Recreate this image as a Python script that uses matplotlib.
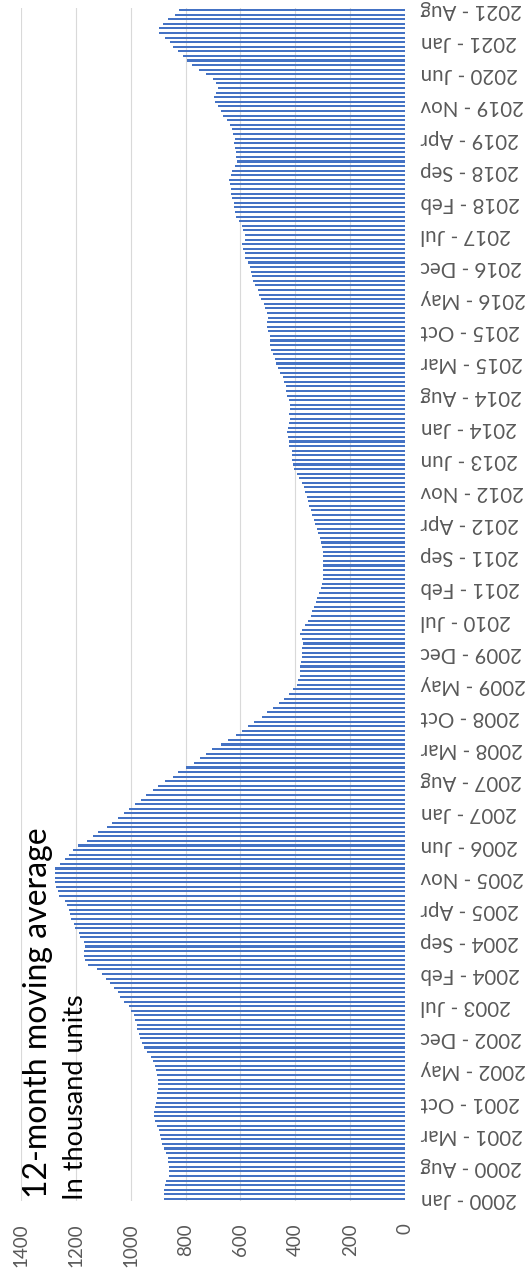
import matplotlib
matplotlib.use('Agg')
import matplotlib.pyplot as plt
import numpy as np

plt.rcParams['font.family'] = ['Lato', 'DejaVu Sans']

# ── Data (thousand units, 12-month moving average, monthly) ─────────────────
MONTHS = ['Jan', 'Feb', 'Mar', 'Apr', 'May', 'Jun',
          'Jul', 'Aug', 'Sep', 'Oct', 'Nov', 'Dec']
FIRST_YEAR = 2000

values_2000 = [877, 880, 880, 873, 871, 859, 859, 859, 862, 865, 871, 880]
values_2001 = [884, 890, 894, 898, 904, 910, 913, 913, 910, 907, 904, 904]
values_2002 = [902, 901, 902, 904, 907, 910, 919, 926, 942, 950, 959, 965]
values_2003 = [971, 975, 977, 983, 989, 997, 1007, 1025, 1040, 1047, 1062, 1074]
values_2004 = [1088, 1104, 1122, 1156, 1165, 1171, 1171, 1165, 1171, 1183, 1189, 1201]
values_2005 = [1205, 1217, 1222, 1225, 1231, 1237, 1262, 1265, 1270, 1274, 1276, 1275]
values_2006 = [1274, 1256, 1237, 1225, 1209, 1193, 1157, 1138, 1119, 1086, 1068, 1047]
values_2007 = [1025, 1005, 983, 962, 943, 919, 902, 875, 847, 829, 800, 768]
values_2008 = [747, 725, 702, 671, 644, 618, 593, 571, 550, 522, 502, 480]
values_2009 = [458, 440, 422, 407, 395, 389, 385, 383, 382, 381, 377, 377]
values_2010 = [375, 374, 377, 383, 375, 364, 353, 344, 338, 331, 325, 320]
values_2011 = [314, 308, 303, 298, 298, 298, 298, 299, 300, 301, 304, 306]
values_2012 = [310, 316, 323, 329, 334, 338, 344, 350, 355, 359, 364, 369]
values_2013 = [377, 386, 395, 404, 410, 412, 413, 413, 422, 425, 428, 429]
values_2014 = [428, 424, 419, 422, 419, 419, 425, 431, 434, 434, 440, 447]
values_2015 = [456, 463, 470, 476, 480, 488, 492, 492, 492, 498, 502, 502]
values_2016 = [501, 504, 510, 516, 524, 532, 538, 547, 554, 558, 561, 567]
values_2017 = [574, 583, 585, 590, 594, 585, 585, 591, 595, 607, 616, 619]
values_2018 = [623, 625, 630, 633, 633, 637, 640, 636, 630, 621, 614, 616]
values_2019 = [618, 621, 623, 619, 628, 631, 639, 648, 662, 670, 683, 694]
values_2020 = [698, 690, 681, 688, 699, 727, 752, 775, 795, 810, 828, 846]
values_2021 = [856, 876, 895, 895, 882, 862, 837, 823]

values = (values_2000 + values_2001 + values_2002 + values_2003 + values_2004
          + values_2005 + values_2006 + values_2007 + values_2008 + values_2009
          + values_2010 + values_2011 + values_2012 + values_2013 + values_2014
          + values_2015 + values_2016 + values_2017 + values_2018 + values_2019
          + values_2020 + values_2021)

labels = [f'{FIRST_YEAR + k // 12} - {MONTHS[k % 12]}' for k in range(len(values))]
LABEL_STEP = 7
value_ticks = list(range(0, 1401, 200))

TITLE = '12-month moving average'
SUBTITLE = 'In thousand units'

BAR_COLOR = '#4472c4'
GRID_COLOR = '#d9d9d9'
TEXT_GRAY = '#595959'

# ── Plot (landscape column chart laid on its side) ──────────────────────────
W, H = 532, 1280
fig = plt.figure(figsize=(W / 100, H / 100), dpi=100)
ax = fig.add_axes([20.7 / W, 78.7 / H, (405.3 - 20.7) / W, (1272.3 - 78.7) / H])

pos = np.arange(len(values))
ax.barh(pos, values, height=0.45, color=BAR_COLOR, zorder=3)

ax.set_xlim(1400, 0)
ax.set_ylim(-0.5, len(values) - 0.5)

ax.set_xticks(value_ticks)
ax.set_xticklabels([str(v) for v in value_ticks], rotation=90,
                   ha='center', va='top', fontsize=13.5, color=TEXT_GRAY)
ax.tick_params(axis='x', length=0, pad=16)

ax.yaxis.tick_right()
ax.set_yticks(pos[::LABEL_STEP])
ax.set_yticklabels(labels[::LABEL_STEP], rotation=180,
                   ha='left', va='center', fontsize=14.8, color=TEXT_GRAY)
ax.tick_params(axis='y', length=0, pad=11)

ax.grid(axis='x', color=GRID_COLOR, linewidth=0.8, zorder=0)
ax.set_axisbelow(True)
for s in ax.spines.values():
    s.set_visible(False)

fig.text(47 / W, 1 - 1198 / H, TITLE, rotation=90, rotation_mode='anchor',
         ha='left', va='baseline', fontsize=23, color='black')
fig.text(83 / W, 1 - 1200 / H, SUBTITLE, rotation=90, rotation_mode='anchor',
         ha='left', va='baseline', fontsize=19.5, color='black')

fig.savefig('out.png', dpi=100)
